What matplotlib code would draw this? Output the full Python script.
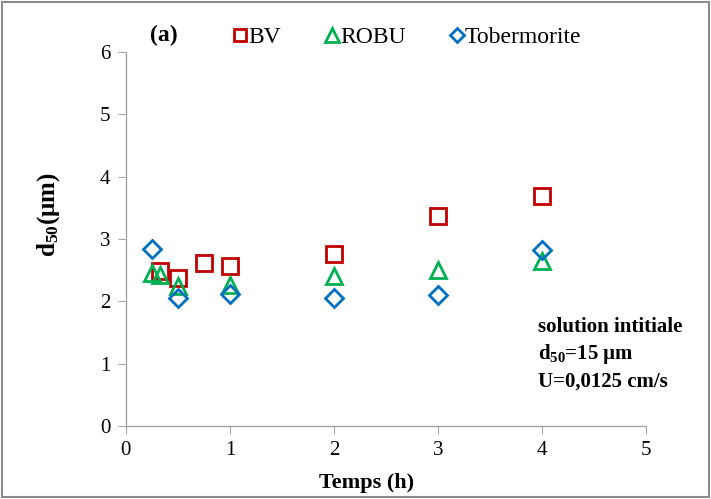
import matplotlib
matplotlib.use("Agg")
import matplotlib.pyplot as plt
from matplotlib.patches import Rectangle

plt.rcParams['font.family'] = ['Liberation Serif', 'DejaVu Serif']
plt.rcParams['mathtext.fontset'] = 'custom'
plt.rcParams['mathtext.rm'] = 'Liberation Serif'
plt.rcParams['mathtext.bf'] = 'Liberation Serif:bold'
plt.rcParams['mathtext.it'] = 'Liberation Serif:italic'

bv_t = [0.33, 0.5, 0.75, 1, 2, 3, 4]
bv_d = [2.49, 2.38, 2.61, 2.56, 2.76, 3.37, 3.69]
robu_t = [0.25, 0.33, 0.5, 1, 2, 3, 4]
robu_d = [2.45, 2.42, 2.25, 2.26, 2.41, 2.50, 2.65]
tob_t = [0.25, 0.5, 1, 2, 3, 4]
tob_d = [2.84, 2.05, 2.12, 2.05, 2.10, 2.83]

fig = plt.figure(figsize=(7.11, 4.99), dpi=100)
ax = fig.add_axes([0.177, 0.146, 0.732, 0.750])

ms = 11
mew = 2.0
ax.plot(bv_t, bv_d, linestyle='none', marker='s', ms=ms, mfc='none', mec='#C00000', mew=mew, label='BV')
ax.plot(robu_t, robu_d, linestyle='none', marker='^', ms=ms + 1, mfc='none', mec='#00B050', mew=mew, label='ROBU')
ax.plot(tob_t, tob_d, linestyle='none', marker='D', ms=ms - 2, mfc='none', mec='#0070C0', mew=mew, label='Tobermorite')

ax.set_xlim(0, 5)
ax.set_ylim(0, 6)
ax.set_xticks(range(0, 6))
ax.set_yticks(range(0, 7))
for s in ['top', 'right']:
    ax.spines[s].set_visible(False)
for s in ['left', 'bottom']:
    ax.spines[s].set_color('#A6A6A6')
    ax.spines[s].set_linewidth(1.0)
ax.tick_params(axis='both', direction='out', color='#A6A6A6', length=6, labelsize=15, pad=5)

ax.set_xlabel('Temps (h)', fontsize=16, fontweight='bold')
ax.xaxis.set_label_coords(0.462, -0.124)
ax.set_ylabel(r'$\mathbf{d_{50}(\mu m)}$', fontsize=18)
ax.yaxis.set_label_coords(-0.123, 0.564)

leg = ax.legend(loc='lower left', bbox_to_anchor=(0.179, 0.985), ncol=3, frameon=False,
                fontsize=17, handletextpad=-0.15, columnspacing=1.65, borderaxespad=0,
                markerscale=0.8, handlelength=1.0)
fig.text(0.211, 0.929, '(a)', fontsize=17, fontweight='bold', va='center')

ax.text(0.792, 0.292, 'solution intitiale\n' + r'$\mathbf{d_{50}}$' + '=15 µm\nU=0,0125 cm/s',
        transform=ax.transAxes, fontsize=15, fontweight='bold', va='top', ha='left',
        linespacing=1.32)

fig.add_artist(Rectangle((0.003, 0.004), 0.994, 0.992, transform=fig.transFigure,
                         fill=False, edgecolor='#8C8C8C', linewidth=1.5))

fig.savefig('out.png', dpi=100)
